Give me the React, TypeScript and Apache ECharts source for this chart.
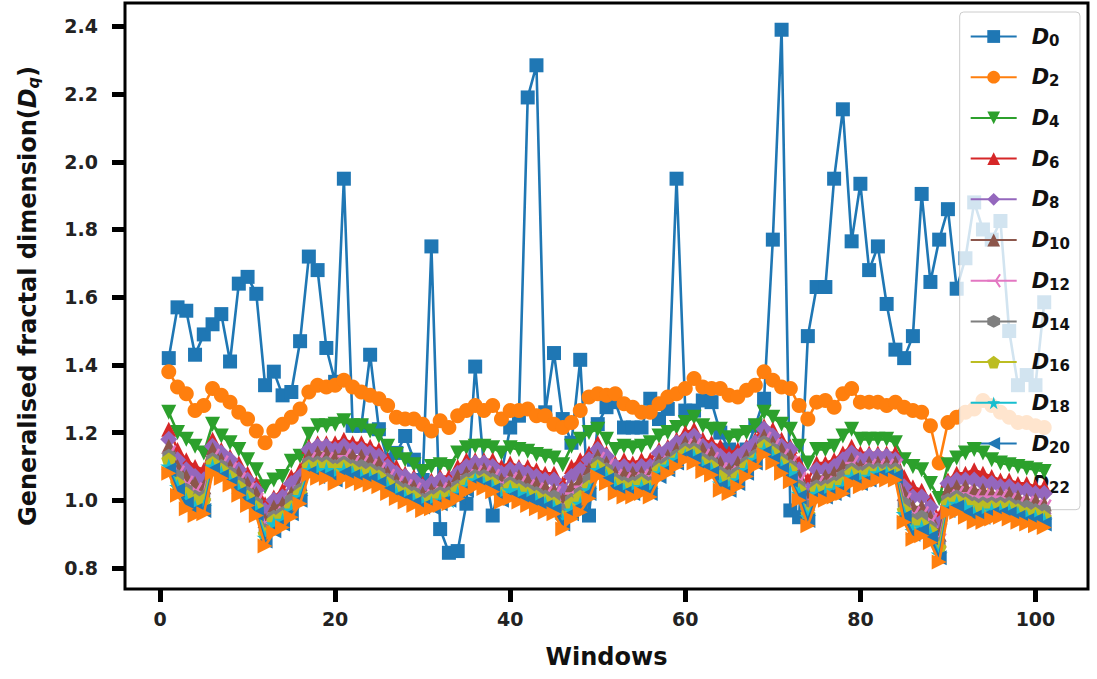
import React, { useEffect, useRef } from "react";
import * as echarts from "echarts";

const windows = [
  1, 2, 3, 4, 5, 6, 7, 8, 9, 10, 11, 12, 13, 14, 15, 16, 17, 18, 19, 20,
  21, 22, 23, 24, 25, 26, 27, 28, 29, 30, 31, 32, 33, 34, 35, 36, 37, 38, 39, 40,
  41, 42, 43, 44, 45, 46, 47, 48, 49, 50, 51, 52, 53, 54, 55, 56, 57, 58, 59, 60,
  61, 62, 63, 64, 65, 66, 67, 68, 69, 70, 71, 72, 73, 74, 75, 76, 77, 78, 79, 80,
  81, 82, 83, 84, 85, 86, 87, 88, 89, 90, 91, 92, 93, 94, 95, 96, 97, 98, 99, 100,
  101,
];

const d0 = [
  1.42, 1.57, 1.56, 1.43, 1.49, 1.52, 1.55, 1.41, 1.64, 1.66,
  1.61, 1.34, 1.38, 1.31, 1.32, 1.47, 1.72, 1.68, 1.45, 1.35,
  1.95, 1.22, 1.22, 1.43, 1.21, 1.12, 1.14, 1.19, 1.12, 1.06,
  1.75, 0.915, 0.845, 0.85, 0.99, 1.395, 1.1, 0.955, 1.08, 1.215,
  1.25, 2.19, 2.285, 1.26, 1.435, 1.24, 1.17, 1.415, 0.955, 1.225,
  1.275, 1.29, 1.215, 1.215, 1.215, 1.3, 1.24, 1.27, 1.95, 1.265,
  1.265, 1.295, 1.29, 1.2, 1.15, 1.12, 1.15, 1.22, 1.3, 1.77,
  2.39, 0.97, 0.95, 1.485, 1.63, 1.63, 1.95, 2.155, 1.765, 1.935,
  1.68, 1.75, 1.58, 1.445, 1.42, 1.485, 1.905, 1.645, 1.77, 1.86,
  1.625, 1.715, 1.88, 1.8, 1.77, 1.825, 1.5, 1.34, 1.37, 1.34,
  1.585,
];

const d2 = [
  1.38, 1.335, 1.315, 1.265, 1.28, 1.33, 1.31, 1.29, 1.26, 1.24,
  1.205, 1.17, 1.205, 1.225, 1.245, 1.27, 1.32, 1.34, 1.335, 1.34,
  1.355, 1.335, 1.32, 1.31, 1.3, 1.28, 1.245, 1.24, 1.24, 1.225,
  1.205, 1.235, 1.215, 1.25, 1.265, 1.28, 1.265, 1.28, 1.24, 1.265,
  1.265, 1.27, 1.25, 1.25, 1.225, 1.215, 1.23, 1.265, 1.305, 1.315,
  1.31, 1.315, 1.285, 1.275, 1.26, 1.26, 1.285, 1.305, 1.315, 1.33,
  1.36, 1.335, 1.33, 1.33, 1.31, 1.305, 1.325, 1.34, 1.38, 1.355,
  1.335, 1.33, 1.28, 1.24, 1.29, 1.295, 1.275, 1.315, 1.33, 1.29,
  1.29, 1.29, 1.28, 1.29, 1.275, 1.265, 1.26, 1.22, 1.11, 1.23,
  1.245, 1.26, 1.27, 1.295, 1.28, 1.26, 1.245, 1.23, 1.23, 1.22,
  1.215,
];

const d4 = [
  1.26, 1.2, 1.18, 1.16, 1.14, 1.225, 1.19, 1.17, 1.15, 1.12,
  1.09, 1.04, 1.06, 1.07, 1.115, 1.13, 1.195, 1.22, 1.22, 1.225,
  1.235, 1.22, 1.22, 1.205, 1.19, 1.16, 1.135, 1.12, 1.105, 1.085,
  1.1, 1.105, 1.1, 1.14, 1.155, 1.16, 1.16, 1.155, 1.14, 1.155,
  1.15, 1.145, 1.135, 1.13, 1.125, 1.105, 1.16, 1.18, 1.2, 1.21,
  1.18, 1.15, 1.16, 1.155, 1.16, 1.17, 1.19, 1.2, 1.215, 1.23,
  1.245, 1.22, 1.21, 1.21, 1.185, 1.19, 1.2, 1.22, 1.26, 1.245,
  1.225, 1.21, 1.16, 1.11, 1.15, 1.15, 1.16, 1.19, 1.21, 1.18,
  1.18, 1.18, 1.18, 1.17, 1.12, 1.1, 1.09, 1.05, 1.005, 1.105,
  1.125, 1.14, 1.15, 1.14, 1.12, 1.11, 1.105, 1.1, 1.095, 1.09,
  1.085,
];

const d6 = [
  1.21, 1.15, 1.12, 1.1, 1.09, 1.18, 1.15, 1.13, 1.11, 1.08,
  1.05, 0.99, 1.01, 1.03, 1.07, 1.09, 1.16, 1.17, 1.17, 1.17,
  1.18, 1.17, 1.17, 1.16, 1.15, 1.12, 1.1, 1.08, 1.07, 1.05,
  1.06, 1.07, 1.07, 1.1, 1.12, 1.12, 1.12, 1.12, 1.1, 1.11,
  1.1, 1.1, 1.09, 1.08, 1.08, 1.05, 1.1, 1.12, 1.14, 1.17,
  1.14, 1.11, 1.12, 1.11, 1.12, 1.12, 1.15, 1.16, 1.18, 1.2,
  1.21, 1.18, 1.17, 1.16, 1.14, 1.15, 1.16, 1.18, 1.22, 1.21,
  1.18, 1.16, 1.11, 1.06, 1.11, 1.11, 1.12, 1.14, 1.16, 1.14,
  1.14, 1.14, 1.14, 1.14, 1.07, 1.04, 1.03, 1.0, 0.95, 1.06,
  1.08, 1.08, 1.09, 1.08, 1.07, 1.06, 1.06, 1.05, 1.05, 1.04,
  1.04,
];

const d8 = [
  1.18, 1.12, 1.09, 1.07, 1.06, 1.16, 1.14, 1.12, 1.09, 1.06,
  1.03, 0.97, 1.0, 1.01, 1.05, 1.07, 1.15, 1.16, 1.16, 1.15,
  1.16, 1.15, 1.15, 1.14, 1.13, 1.1, 1.08, 1.07, 1.06, 1.04,
  1.05, 1.06, 1.05, 1.08, 1.1, 1.11, 1.11, 1.1, 1.08, 1.09,
  1.09, 1.08, 1.07, 1.06, 1.06, 1.03, 1.07, 1.09, 1.12, 1.15,
  1.13, 1.1, 1.1, 1.09, 1.1, 1.1, 1.14, 1.15, 1.17, 1.18,
  1.19, 1.16, 1.15, 1.13, 1.12, 1.13, 1.15, 1.17, 1.21, 1.19,
  1.16, 1.15, 1.09, 1.03, 1.09, 1.09, 1.1, 1.12, 1.14, 1.12,
  1.13, 1.13, 1.13, 1.12, 1.04, 1.01, 1.01, 0.98, 0.93, 1.05,
  1.06, 1.06, 1.06, 1.05, 1.05, 1.04, 1.04, 1.03, 1.03, 1.02,
  1.02,
];

const d10 = [
  1.16, 1.1, 1.07, 1.05, 1.04, 1.15, 1.12, 1.1, 1.08, 1.05,
  1.02, 0.94, 0.98, 0.99, 1.02, 1.05, 1.13, 1.14, 1.14, 1.13,
  1.14, 1.13, 1.13, 1.12, 1.11, 1.08, 1.06, 1.05, 1.04, 1.02,
  1.03, 1.04, 1.04, 1.07, 1.08, 1.09, 1.09, 1.08, 1.06, 1.07,
  1.07, 1.06, 1.05, 1.04, 1.03, 1.0, 1.04, 1.06, 1.09, 1.13,
  1.11, 1.08, 1.08, 1.08, 1.08, 1.08, 1.12, 1.13, 1.15, 1.17,
  1.17, 1.15, 1.14, 1.11, 1.09, 1.11, 1.13, 1.15, 1.19, 1.17,
  1.15, 1.13, 1.07, 1.01, 1.07, 1.07, 1.08, 1.1, 1.12, 1.1,
  1.11, 1.11, 1.11, 1.11, 1.02, 0.98, 0.98, 0.95, 0.9, 1.03,
  1.04, 1.04, 1.03, 1.03, 1.02, 1.02, 1.02, 1.01, 1.0, 1.0,
  0.99,
];

const d12 = [
  1.14, 1.08, 1.05, 1.03, 1.02, 1.13, 1.11, 1.09, 1.06, 1.03,
  1.0, 0.93, 0.96, 0.97, 1.01, 1.04, 1.12, 1.12, 1.12, 1.11,
  1.13, 1.11, 1.11, 1.1, 1.09, 1.07, 1.05, 1.04, 1.03, 1.01,
  1.02, 1.03, 1.03, 1.05, 1.07, 1.08, 1.08, 1.07, 1.05, 1.06,
  1.05, 1.04, 1.03, 1.02, 1.02, 0.98, 1.02, 1.04, 1.07, 1.12,
  1.1, 1.07, 1.06, 1.06, 1.07, 1.07, 1.11, 1.12, 1.14, 1.16,
  1.16, 1.13, 1.12, 1.09, 1.08, 1.09, 1.12, 1.14, 1.18, 1.16,
  1.13, 1.11, 1.06, 0.99, 1.05, 1.05, 1.06, 1.08, 1.11, 1.09,
  1.1, 1.1, 1.1, 1.1, 1.0, 0.96, 0.96, 0.94, 0.88, 1.01,
  1.02, 1.02, 1.01, 1.01, 1.01, 1.01, 1.0, 0.99, 0.99, 0.98,
  0.98,
];

const d14 = [
  1.13, 1.07, 1.03, 1.01, 1.01, 1.12, 1.1, 1.08, 1.05, 1.02,
  0.99, 0.91, 0.95, 0.96, 1.0, 1.03, 1.11, 1.11, 1.11, 1.1,
  1.11, 1.1, 1.1, 1.09, 1.08, 1.06, 1.04, 1.03, 1.02, 1.0,
  1.01, 1.02, 1.02, 1.04, 1.06, 1.07, 1.07, 1.06, 1.03, 1.05,
  1.04, 1.03, 1.02, 1.01, 1.01, 0.97, 1.0, 1.02, 1.06, 1.11,
  1.09, 1.06, 1.05, 1.05, 1.06, 1.05, 1.1, 1.11, 1.13, 1.15,
  1.15, 1.12, 1.11, 1.08, 1.07, 1.08, 1.11, 1.13, 1.17, 1.15,
  1.12, 1.1, 1.04, 0.98, 1.04, 1.04, 1.05, 1.07, 1.09, 1.08,
  1.09, 1.09, 1.09, 1.09, 0.99, 0.94, 0.95, 0.92, 0.87, 1.0,
  1.01, 1.0, 0.99, 0.99, 0.99, 0.99, 0.99, 0.98, 0.98, 0.97,
  0.97,
];

const d16 = [
  1.12, 1.05, 1.02, 1.0, 1.0, 1.11, 1.09, 1.07, 1.04, 1.01,
  0.98, 0.9, 0.94, 0.95, 0.98, 1.02, 1.1, 1.1, 1.1, 1.09,
  1.1, 1.09, 1.08, 1.08, 1.07, 1.05, 1.03, 1.02, 1.01, 0.99,
  1.0, 1.01, 1.01, 1.03, 1.05, 1.06, 1.06, 1.05, 1.02, 1.04,
  1.03, 1.02, 1.01, 1.0, 0.99, 0.95, 0.99, 1.01, 1.04, 1.1,
  1.08, 1.05, 1.04, 1.04, 1.05, 1.04, 1.09, 1.1, 1.12, 1.14,
  1.14, 1.11, 1.1, 1.07, 1.05, 1.07, 1.1, 1.12, 1.16, 1.14,
  1.11, 1.09, 1.03, 0.96, 1.03, 1.03, 1.04, 1.05, 1.08, 1.07,
  1.08, 1.08, 1.08, 1.08, 0.97, 0.93, 0.93, 0.91, 0.86, 0.99,
  1.0, 0.99, 0.98, 0.98, 0.98, 0.98, 0.98, 0.97, 0.96, 0.96,
  0.95,
];

const d18 = [
  1.1, 1.04, 1.0, 0.98, 0.98, 1.1, 1.08, 1.06, 1.03, 1.0,
  0.97, 0.89, 0.93, 0.94, 0.97, 1.01, 1.09, 1.09, 1.09, 1.07,
  1.09, 1.08, 1.07, 1.07, 1.06, 1.04, 1.02, 1.01, 1.0, 0.99,
  0.99, 1.0, 1.0, 1.02, 1.04, 1.06, 1.05, 1.04, 1.01, 1.03,
  1.02, 1.01, 1.0, 0.99, 0.98, 0.94, 0.97, 0.99, 1.03, 1.09,
  1.07, 1.04, 1.03, 1.03, 1.04, 1.03, 1.08, 1.1, 1.12, 1.13,
  1.13, 1.1, 1.09, 1.05, 1.04, 1.06, 1.09, 1.12, 1.15, 1.13,
  1.1, 1.08, 1.02, 0.95, 1.02, 1.02, 1.03, 1.04, 1.07, 1.06,
  1.07, 1.08, 1.08, 1.07, 0.96, 0.91, 0.92, 0.9, 0.84, 0.98,
  0.99, 0.98, 0.96, 0.96, 0.97, 0.97, 0.97, 0.96, 0.95, 0.95,
  0.94,
];

const d20 = [
  1.09, 1.03, 0.99, 0.97, 0.97, 1.09, 1.07, 1.05, 1.02, 0.99,
  0.96, 0.88, 0.91, 0.93, 0.96, 1.0, 1.08, 1.07, 1.07, 1.06,
  1.08, 1.07, 1.06, 1.06, 1.05, 1.03, 1.01, 1.0, 0.99, 0.98,
  0.98, 0.99, 1.0, 1.01, 1.03, 1.05, 1.04, 1.03, 1.0, 1.01,
  1.0, 1.0, 0.99, 0.98, 0.97, 0.93, 0.96, 0.98, 1.02, 1.08,
  1.06, 1.03, 1.02, 1.02, 1.03, 1.02, 1.07, 1.09, 1.11, 1.13,
  1.12, 1.09, 1.08, 1.04, 1.03, 1.05, 1.08, 1.11, 1.14, 1.12,
  1.09, 1.06, 1.01, 0.94, 1.01, 1.01, 1.02, 1.03, 1.06, 1.05,
  1.06, 1.07, 1.07, 1.07, 0.95, 0.9, 0.91, 0.89, 0.83, 0.97,
  0.98, 0.96, 0.95, 0.95, 0.96, 0.96, 0.96, 0.95, 0.94, 0.94,
  0.93,
];

const d22 = [
  1.08, 1.015, 0.975, 0.955, 0.96, 1.08, 1.065, 1.045, 1.015, 0.985,
  0.955, 0.865, 0.905, 0.92, 0.95, 0.99, 1.075, 1.065, 1.065, 1.05,
  1.065, 1.055, 1.05, 1.045, 1.04, 1.02, 1.005, 0.995, 0.985, 0.97,
  0.975, 0.985, 0.99, 1.005, 1.025, 1.04, 1.035, 1.025, 0.995, 1.005,
  0.995, 0.985, 0.975, 0.965, 0.96, 0.915, 0.945, 0.965, 1.005, 1.07,
  1.05, 1.02, 1.01, 1.01, 1.02, 1.01, 1.065, 1.08, 1.1, 1.12,
  1.11, 1.085, 1.075, 1.03, 1.02, 1.04, 1.07, 1.1, 1.135, 1.11,
  1.08, 1.055, 1.0, 0.925, 1.0, 1.0, 1.01, 1.02, 1.05, 1.04,
  1.05, 1.06, 1.06, 1.06, 0.935, 0.885, 0.895, 0.875, 0.818, 0.965,
  0.965, 0.95, 0.935, 0.935, 0.945, 0.95, 0.945, 0.935, 0.93, 0.925,
  0.92,
];

const seriesNames = ["D0", "D2", "D4", "D6", "D8", "D10", "D12", "D14", "D16", "D18", "D20", "D22"];
const seriesValues = [d0, d2, d4, d6, d8, d10, d12, d14, d16, d18, d20, d22];
const seriesColors = [
  "#1f77b4", "#ff7f0e", "#2ca02c", "#d62728", "#9467bd", "#8c564b",
  "#e377c2", "#7f7f7f", "#bcbd22", "#17becf", "#1f77b4", "#ff7f0e",
];
const xTicks = [0, 20, 40, 60, 80, 100];
const yTicks = [0.8, 1.0, 1.2, 1.4, 1.6, 1.8, 2.0, 2.2, 2.4];

const HEX = "path://M50,0 L93,25 L93,75 L50,100 L7,75 L7,25 Z";
const PENT = "path://M50,0 L98,35 L79,91 L21,91 L2,35 Z";
const STAR = "path://M50,0 L61,35 L98,35 L68,57 L79,91 L50,70 L21,91 L32,57 L2,35 L39,35 Z";
const TRI3 = "path://M50,50 L0,50 M50,50 L75,6.7 M50,50 L75,93.3";

const markerStyles: any[] = [
  { symbol: "rect", size: 14, rotate: 0 },
  { symbol: "circle", size: 15, rotate: 0 },
  { symbol: "triangle", size: 15, rotate: 180 },
  { symbol: "triangle", size: 15, rotate: 0 },
  { symbol: "diamond", size: [17, 17], rotate: 0 },
  { symbol: "triangle", size: 15, rotate: 0 },
  { symbol: TRI3, size: 15, rotate: 0, stroke: true },
  { symbol: HEX, size: 15, rotate: 0 },
  { symbol: PENT, size: 15, rotate: 0 },
  { symbol: STAR, size: 17, rotate: 0 },
  { symbol: "triangle", size: 15, rotate: 90 },
  { symbol: "triangle", size: 15, rotate: -90 },
];

const FONT = "DejaVu Sans";

export default function App() {
  const ref = useRef<HTMLDivElement>(null);
  useEffect(() => {
    if (!ref.current) return;
    const chart = echarts.init(ref.current, undefined, { renderer: "svg" });
    const series = seriesNames.map((name, i) => {
      const m = markerStyles[i];
      const color = seriesColors[i];
      return {
        name,
        type: "line",
        data: windows.map((w, j) => [w, seriesValues[i][j]]),
        symbol: m.symbol,
        symbolSize: m.size,
        symbolRotate: m.rotate,
        symbolKeepAspect: true,
        showAllSymbol: true,
        lineStyle: { color, width: 2.6 },
        itemStyle: m.stroke
          ? { color: "rgba(0,0,0,0)", borderColor: color, borderWidth: 2.5 }
          : { color, borderWidth: 0 },
        emphasis: { disabled: true },
        z: 2 + i,
      };
    });
    chart.setOption({
      animation: false,
      backgroundColor: "#ffffff",
      grid: {
        left: 125,
        right: 9,
        top: 3,
        bottom: 90,
        show: true,
        borderColor: "#000000",
        borderWidth: 3,
        backgroundColor: "transparent",
      },
      xAxis: {
        type: "value",
        min: -4,
        max: 106,
        name: "Windows",
        nameLocation: "middle",
        nameGap: 56,
        nameTextStyle: { fontFamily: FONT, fontWeight: "bold", fontSize: 24, color: "#111" },
        axisLine: { show: false, onZero: false },
        splitLine: { show: false },
        axisTick: {
          show: true,
          inside: false,
          length: 13,
          customValues: xTicks,
          lineStyle: { color: "#000", width: 5 },
        },
        axisLabel: {
          customValues: xTicks,
          margin: 20,
          fontFamily: FONT,
          fontWeight: "bold",
          fontSize: 19,
          color: "#222",
        },
      },
      yAxis: {
        type: "value",
        min: 0.738,
        max: 2.469,
        name: "Generalised fractal dimension({i|D}{q|q})",
        nameLocation: "middle",
        nameGap: 84,
        nameRotate: 90,
        nameTextStyle: {
          fontFamily: FONT,
          fontWeight: "bold",
          fontSize: 24,
          color: "#111",
          rich: {
            i: { fontFamily: FONT, fontWeight: "bold", fontStyle: "italic", fontSize: 24, color: "#111" },
            q: {
              fontFamily: FONT,
              fontWeight: "bold",
              fontStyle: "italic",
              fontSize: 16,
              color: "#111",
              padding: [10, 0, 0, 0],
            },
          },
        },
        axisLine: { show: false, onZero: false },
        splitLine: { show: false },
        axisTick: {
          show: true,
          inside: false,
          length: 13,
          customValues: yTicks,
          lineStyle: { color: "#000", width: 5 },
        },
        axisLabel: {
          customValues: yTicks,
          margin: 27,
          fontFamily: FONT,
          fontWeight: "bold",
          fontSize: 19,
          color: "#222",
          formatter: (v: number) => v.toFixed(1),
        },
      },
      legend: {
        orient: "vertical",
        right: 17,
        top: 12,
        padding: [14, 10, 14, 10],
        itemGap: 18.7,
        itemWidth: 46,
        itemHeight: 16,
        backgroundColor: "rgba(255,255,255,0.8)",
        borderColor: "#cccccc",
        borderWidth: 1,
        borderRadius: 4,
        data: seriesNames,
        formatter: (name: string) => `{d|D}{s|${name.slice(1)}}`,
        textStyle: {
          fontFamily: FONT,
          rich: {
            d: {
              fontFamily: FONT,
              fontWeight: "bold",
              fontStyle: "italic",
              fontSize: 21,
              color: "#111",
              padding: [0, 0, 0, 10],
              lineHeight: 22,
            },
            s: {
              fontFamily: FONT,
              fontWeight: "bold",
              fontSize: 15,
              color: "#111",
              padding: [8, 0, 0, 0],
            },
          },
        },
      },
      series,
    });
    return () => chart.dispose();
  }, []);
  return (
    <div
      ref={ref}
      style={{ position: "absolute", left: 0, top: 0, width: 1097, height: 679, background: "#fff" }}
    />
  );
}
